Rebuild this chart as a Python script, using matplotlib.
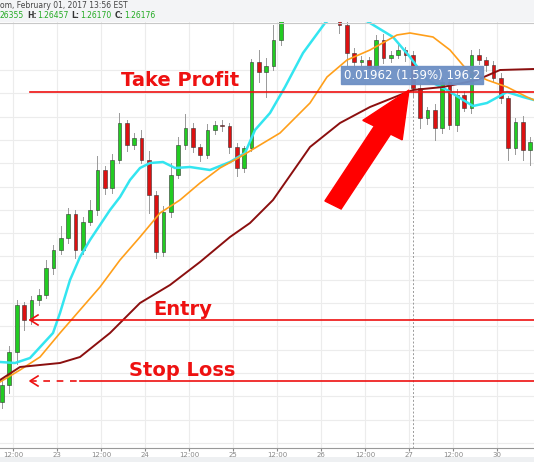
import matplotlib.pyplot as plt
from matplotlib.patches import Rectangle, FancyArrow

# 2-hour candles, hour 0 = Jan 22 00:00
first_open = 1.2298
closes = [1.2315, 1.2348, 1.2395, 1.2380, 1.2400, 1.2405, 1.2432, 1.2450, 1.2462, 1.2486,
          1.2450, 1.2478, 1.2490, 1.2530, 1.2512, 1.2540, 1.2577, 1.2555, 1.2562, 1.2540,
          1.2505, 1.2448, 1.2488, 1.2525, 1.2555, 1.2572, 1.2553, 1.2545, 1.2570, 1.2575,
          1.2574, 1.2553, 1.2532, 1.2552, 1.2638, 1.2628, 1.2634, 1.2660, 1.2685, 1.2700,
          1.2710, 1.2705, 1.2695, 1.2700, 1.2690, 1.2685, 1.2675, 1.2647, 1.2638, 1.2640,
          1.2632, 1.2660, 1.2642, 1.2645, 1.2650, 1.2645, 1.2612, 1.2582, 1.2590, 1.2572,
          1.2618, 1.2575, 1.2605, 1.2592, 1.2645, 1.2640, 1.2635, 1.2622, 1.2602, 1.2552,
          1.2578, 1.2550, 1.2558]
up_wick = [4, 6, 5, 3, 4, 6, 8, 5, 12, 6, 4, 5, 10, 14, 4, 6, 10, 3, 5, 8,
           9, 4, 6, 12, 8, 14, 5, 3, 6, 4, 5, 3, 4, 2, 3, 12, 8, 15, 5, 4,
           6, 3, 5, 4, 6, 8, 3, 6, 5, 4, 3, 5, 6, 4, 8, 3, 4, 5, 3, 6,
           4, 8, 6, 4, 5, 6, 3, 4, 5, 2, 4, 6, 5]
dn_wick = [6, 8, 12, 10, 4, 5, 3, 6, 4, 5, 8, 4, 3, 5, 6, 5, 3, 6, 4, 3,
           18, 6, 4, 5, 3, 4, 5, 6, 3, 4, 5, 6, 8, 4, 3, 10, 25, 4, 5, 6,
           3, 4, 5, 3, 6, 4, 8, 12, 5, 4, 6, 3, 5, 4, 3, 6, 8, 10, 6, 12,
           5, 4, 6, 3, 5, 4, 6, 3, 5, 12, 6, 10, 15]
candle_hours = [9 + 2 * i for i in range(len(closes))]

# moving averages read at pixel-x positions (converted to hours / prices)
ma_fast_x = [0, 15, 30, 53, 60, 70, 80, 90, 100, 110, 120, 130, 140, 150, 163, 175, 190, 210,
             230, 245, 255, 270, 285, 303, 325, 345, 370, 393, 410, 427, 447, 473, 487, 507, 523, 534]
ma_fast_y = [1.2338, 1.2337, 1.2342, 1.2367, 1.2387, 1.2420, 1.2443, 1.2460, 1.2475, 1.2490,
             1.2503, 1.2520, 1.2532, 1.2537, 1.2538, 1.2532, 1.2533, 1.2530, 1.2538, 1.2547,
             1.2570, 1.2587, 1.2613, 1.2647, 1.2677, 1.2692, 1.2677, 1.2663, 1.2643, 1.2620,
             1.2610, 1.2594, 1.2597, 1.2608, 1.2603, 1.2600]
ma_mid_x = [0, 20, 40, 60, 80, 100, 120, 140, 160, 180, 200, 220, 240, 260, 280, 310, 327, 347,
            370, 397, 410, 433, 450, 467, 487, 507, 527, 534]
ma_mid_y = [1.2318, 1.2330, 1.2343, 1.2367, 1.2390, 1.2413, 1.2440, 1.2463, 1.2487, 1.2500,
            1.2517, 1.2532, 1.2543, 1.2555, 1.2567, 1.2597, 1.2623, 1.2640, 1.2650, 1.2665,
            1.2667, 1.2663, 1.2650, 1.2630, 1.2620, 1.2613, 1.2603, 1.2600]
ma_slow_x = [0, 20, 60, 80, 110, 140, 170, 200, 230, 250, 273, 310, 340, 370, 400, 413, 443,
             477, 500, 534]
ma_slow_y = [1.2320, 1.2333, 1.2337, 1.2343, 1.2367, 1.2397, 1.2415, 1.2438, 1.2463, 1.2477,
             1.2500, 1.2553, 1.2577, 1.2593, 1.2605, 1.2610, 1.2613, 1.2620, 1.2630, 1.2631]

take_profit = 1.2608
entry = 1.2380
stop_loss = 1.2319
tick_hours = [12, 24, 36, 48, 60, 72, 84, 96, 108, 120, 132, 144]
tick_labels = ['12:00', '23', '12:00', '24', '12:00', '25', '12:00', '26', '12:00', '27', '12:00', '30']
measure_text = '0.01962 (1.59%) 196.2'


def px_to_hour(px):
    return 12 + (px - 13) / 3.667


fig = plt.figure(figsize=(5.34, 4.62), dpi=100)
ax = fig.add_axes([0, 14 / 462, 1, 426 / 462])
ax.set_xlim(px_to_hour(0), px_to_hour(534))
ax.set_ylim(1.2252, 1.2678)

ax.set_xticks(tick_hours)
ax.set_xticklabels(tick_labels, fontsize=5, color='#555555')
ax.set_yticks([1.2630 - 0.00233 * k for k in range(17)])
ax.tick_params(axis='y', left=False, labelleft=False)
ax.tick_params(axis='x', length=2, pad=1, colors='#888888')
ax.grid(True, color='#ececec', linewidth=0.8)
for s in ['top', 'left', 'right']:
    ax.spines[s].set_visible(False)
ax.spines['bottom'].set_color('#999999')

# candles
prev = first_open
for h, c, uw, dw in zip(candle_hours, closes, up_wick, dn_wick):
    o = prev
    lo, hi = min(o, c), max(o, c)
    ax.plot([h, h], [lo - dw * 1e-4, hi + uw * 1e-4], color='#999999', lw=0.7, zorder=2)
    col = '#22cc22' if c >= o else '#dd1111'
    ax.add_patch(Rectangle((h - 0.5, lo), 1.0, max(hi - lo, 0.00005), facecolor=col,
                           edgecolor='#333333', lw=0.4, zorder=3))
    prev = c

ax.plot([px_to_hour(x) for x in ma_fast_x], ma_fast_y, color='#33e5f0', lw=1.8, zorder=4)
ax.plot([px_to_hour(x) for x in ma_mid_x], ma_mid_y, color='#ff9f1a', lw=1.2, zorder=4)
ax.plot([px_to_hour(x) for x in ma_slow_x], ma_slow_y, color='#8b0f0f', lw=1.4, zorder=4)

red = '#ee1111'
x0 = px_to_hour(30)
ax.plot([x0, px_to_hour(534)], [take_profit, take_profit], color=red, lw=1.2, zorder=5)
ax.plot([x0, px_to_hour(534)], [entry, entry], color=red, lw=1.2, zorder=5)
ax.plot([px_to_hour(80), px_to_hour(534)], [stop_loss, stop_loss], color=red, lw=1.2, zorder=5)
ax.plot([x0, px_to_hour(80)], [stop_loss, stop_loss], color=red, lw=1.2, ls=(0, (4, 4)), zorder=5)
for y in [entry, stop_loss]:
    ax.plot([px_to_hour(38), x0, px_to_hour(38)], [y + 0.0005, y, y - 0.0005], color=red, lw=1.2, zorder=5)

ax.text(px_to_hour(180), take_profit + 0.0002, 'Take Profit', color=red, fontsize=14,
        fontweight='bold', ha='center', va='bottom', zorder=6)
ax.text(px_to_hour(183), entry + 0.0001, 'Entry', color=red, fontsize=14,
        fontweight='bold', ha='center', va='bottom', zorder=6)
ax.text(px_to_hour(182), stop_loss + 0.0001, 'Stop Loss', color=red, fontsize=14,
        fontweight='bold', ha='center', va='bottom', zorder=6)

# measure line and tooltip
ax.plot([px_to_hour(413)] * 2, [1.2252, take_profit], color='#999999', lw=0.7, ls=(0, (2, 2)), zorder=3)
ax.text(px_to_hour(412), 1.2625, measure_text, color='white', fontsize=8.5, ha='center', va='center',
        zorder=7, bbox=dict(boxstyle='square,pad=0.25', facecolor='#6d8fc4', edgecolor='#6d8fc4', alpha=0.95))

# big arrow (in figure pixel coords)
fig.patches.append(FancyArrow(333 / 534, 1 - 205 / 462, (409 - 333) / 534, -(90 - 205) / 462,
                              width=0.035, head_width=0.085, head_length=0.1,
                              length_includes_head=True, color='#ff0000',
                              transform=fig.transFigure, zorder=8))

# header bar
fig.patches.append(Rectangle((0, 1 - 22 / 462), 1, 22 / 462, transform=fig.transFigure,
                             facecolor='#f3f4f6', edgecolor='none'))
fig.add_artist(plt.Line2D([0, 1], [1 - 22.5 / 462] * 2, color='#c8c8c8', lw=0.8))
fig.text(0, 1 - 6 / 462, 'om, February 01, 2017 13:56 EST', fontsize=5.5, color='#444444', va='center')
parts = [('26355', '#22aa22'), ('H:', '#333333'), ('1.26457', '#22aa22'), ('L:', '#333333'),
         ('1.26170', '#22aa22'), ('C:', '#333333'), ('1.26176', '#22aa22')]
renderer = fig.canvas.get_renderer()
xp = 0.0
for i, (txt, col) in enumerate(parts):
    t = fig.text(xp / 534, 1 - 16 / 462, txt, fontsize=5.5, color=col, va='center',
                 fontweight='bold' if col == '#333333' else 'normal')
    w = t.get_window_extent(renderer).width
    xp += w + (3 if i % 2 == 0 else 0.5)
# bottom strip
fig.patches.append(Rectangle((0, 0), 1, 5 / 462, transform=fig.transFigure,
                             facecolor='#eef0f2', edgecolor='none'))

fig.savefig('out.png', dpi=100)
